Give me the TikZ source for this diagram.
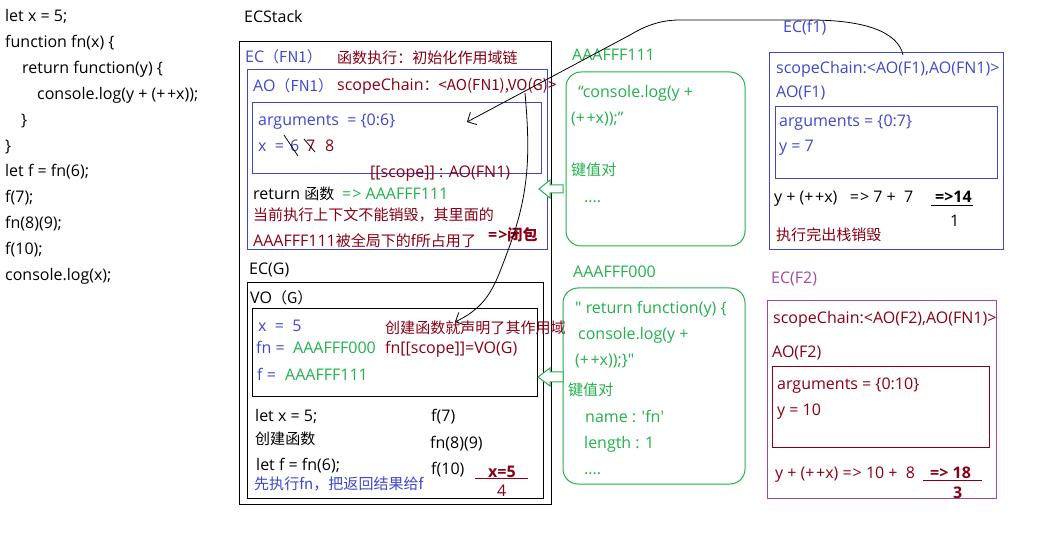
\documentclass[tikz,border=0pt]{standalone}
\usepackage{fontspec}
\setmainfont{Open Sans}
\newfontfamily\cjk[Scale=0.94]{Noto Sans CJK SC}
\usetikzlibrary{arrows.meta}
\definecolor{pblue}{HTML}{3F48CC}
\definecolor{pred}{HTML}{880015}
\definecolor{pgreen}{HTML}{22B14C}
\definecolor{ppurple}{HTML}{A349A4}
\newcommand{\pp}{+\kern1.5pt+}
\begin{document}
\begin{tikzpicture}[x=1pt,y=-1pt,
  t/.style={anchor=west,inner sep=0pt,text height=12pt,text depth=0pt,font=\fontsize{16}{19}\selectfont},
  tb/.style={t,font=\fontsize{16}{19}\selectfont\bfseries},
  frame/.style={line width=1pt},
  gbox/.style={pgreen,line width=1pt,rounded corners=15pt},
  harrow/.style={pgreen,line width=1pt,fill=white},
  hand/.style={black,line width=0.8pt},
  handtip/.style={-{Straight Barb[length=7pt,width=14pt,line width=0.8pt]}}
]
\useasboundingbox (0,0) rectangle (1039,534);
\fill[white] (0,0) rectangle (1039,534);

% ---- left code ----
\node[t] (c1) at (5,16) {let x = 5;};
\node[t] (c2) at (5,42) {function fn(x) \{};
\node[t] (c3) at (22,68) {return function(y) \{};
\node[t] (c4) at (37,94) {console.log(y + (\pp x));};
\node[t] (c5) at (21,120) {\}};
\node[t] (c6) at (5,146) {\}};
\node[t] (c7) at (5,171) {let f = fn(6);};
\node[t] (c8) at (5,197) {f(7);};
\node[t] (c9) at (5,223) {fn(8)(9);};
\node[t] (c10) at (5,249) {f(10);};
\node[t] (c11) at (5,275) {console.log(x);};

% ---- ECStack ----
\node[t] (ecs) at (244,17) {ECStack};
\draw[frame,black] (239,42) rectangle (551,504);

% EC(FN1)
\node[t,pblue] (ecfn1) at (245,57) {EC\cjk{（}FN1\cjk{）}};
\node[t,pred] (fnexec) at (337,58) {\cjk{函数执行：初始化作用域链}};
\draw[frame,pblue] (247,70) rectangle (547,250);
\node[t,pblue] (aofn1) at (253,86) {AO\cjk{（}FN1\cjk{）}};
\node[t,pred] (scfn1) at (337,85) {scopeChain\cjk{：}<AO(FN1),VO(G)>};
\draw[frame,pblue] (252,103) rectangle (541,174);
\node[t,pblue] (argfn1) at (258,120) {arguments \ = \{0:6\}};
\node[t,pblue] (xeq) at (258,146) {x \ =};
\node[t,pblue] (x6) at (290,146) {6};
\node[t,pred] (x7) at (306,146) {7};
\node[t,pred] (x8) at (325,146) {8};
\draw[black,line width=0.8pt] (284,135) -- (298,156);
\draw[black,line width=0.8pt] (304,139) -- (315,152);
\node[t,pred] (scope1) at (370,172) {[[scope]] : AO(FN1)};
\node[t] (retfn) at (253,194) {return \cjk{函数}};
\node[t,pgreen] (retval) at (342,194) {=\kern1pt> AAAFFF111};
\node[t,pred] (note1) at (253,215) {\cjk{当前执行上下文不能销毁，其里面的}};
\node[t,pred] (note2) at (253,241) {AAAFFF111\cjk{被全局下的}f\cjk{所占用了}};
\node[tb,pred] (closure) at (488,235) {=\kern1pt>\cjk{\bfseries 闭包}};

% EC(G)
\node[t] (ecg) at (249,269) {EC(G)};
\draw[frame,black] (247,283) rectangle (543,498);
\node[t] (vog) at (250,298) {VO\cjk{（}G\cjk{）}};
\draw[frame,black] (252,309) rectangle (537,397);
\node[t,pblue] (gx) at (258,326) {x \ = \ 5};
\node[t,pblue] (gfn) at (256,348) {fn =};
\node[t,pgreen] (gfnv) at (293,348) {AAAFFF000};
\node[t,pblue] (gf) at (257,375) {f =};
\node[t,pgreen] (gfv) at (285,375) {AAAFFF111};
\node[t,pred] (gnote) at (385,328) {\cjk{创建函数就声明了其作用域}};
\node[t,pred] (gscope) at (385,348) {fn[[scope]]=VO(G)};
\node[t] (s1) at (255,415) {let x = 5;};
\node[t] (s2) at (255,438) {\cjk{创建函数}};
\node[t] (s3) at (256,465) {let f = fn(6);};
\node[t,pblue] (s4) at (254,483) {\cjk{先执行}fn\cjk{，把返回结果给}f};
\node[t] (r1) at (431,416) {f(7)};
\node[t] (r2) at (430,443) {fn(8)(9)};
\node[t] (r3) at (431,468) {f(10)};
\node[tb,pred] (xres) at (488,471) {x=5};
\draw[pred,line width=1pt] (475,478) -- (528,478);
\node[t,pred] (x4) at (497,490) {4};

% ---- heap objects ----
\node[t,pgreen] (h111) at (572,55) {AAAFFF111};
\draw[gbox] (566,72) rectangle (745,246);
\node[t,pgreen] (h111a) at (578,92) {“console.log(y +};
\node[t,pgreen] (h111b) at (571,118) {(\pp x));”};
\node[t,pgreen] (h111c) at (571,170) {\cjk{键值对}};
\node[t,pgreen] (h111d) at (584,197) {....};

\node[t,pgreen] (h000) at (573,272) {AAAFFF000};
\draw[gbox] (563,288) rectangle (745,484);
\node[t,pgreen] (h000a) at (575,308) {\textquotedbl\ return function(y) \{};
\node[t,pgreen] (h000b) at (578,334) {console.log(y +};
\node[t,pgreen] (h000c) at (575,360) {(\pp x));\}\textquotedbl};
\node[t,pgreen] (h000d) at (568,390) {\cjk{键值对}};
\node[t,pgreen] (h000e) at (585,417) {name : \textquotesingle fn\textquotesingle};
\node[t,pgreen] (h000f) at (584,443) {length : 1};
\node[t,pgreen] (h000g) at (584,469) {....};

\draw[harrow] (539,189) -- (550,180) -- (550,185) -- (563,185) -- (563,193) -- (550,193) -- (550,198) -- cycle;
\draw[harrow] (538,377) -- (550,368) -- (550,372) -- (563,372) -- (563,382) -- (550,382) -- (550,386) -- cycle;

% ---- EC(f1) ----
\node[t,pblue] (ecf1) at (783,27) {EC(f1)};
\draw[frame,pblue] (769,53) rectangle (1003,250);
\node[t,pblue] (scf1) at (776,68) {scopeChain:<AO(F1),AO(FN1)>};
\node[t,pblue] (aof1) at (776,92) {AO(F1)};
\draw[frame,pblue] (775,107) rectangle (997,179);
\node[t,pblue] (argf1) at (779,121) {arguments = \{0:7\}};
\node[t,pblue] (yf1) at (779,146) {y = 7};
\node[t] (calc1) at (774,197) {y + (\pp x) \ \ =\kern1pt> 7 + \ 7};
\node[tb] (res1) at (935,197) {=>14};
\draw[black,line width=1pt] (931,206) -- (973,206);
\node[t] (one) at (950,221) {1};
\node[t,pred] (pop) at (776,235) {\cjk{执行完出栈销毁}};

% ---- EC(F2) ----
\node[t,ppurple] (ecf2) at (771,278) {EC(F2)};
\draw[frame,ppurple] (767,301) rectangle (996,498);
\node[t,pred] (scf2) at (773,318) {scopeChain:<AO(F2),AO(FN1)>};
\node[t,pred] (aof2) at (772,352) {AO(F2)};
\draw[frame,pred] (772,367) rectangle (989,447);
\node[t,pred] (argf2) at (777,384) {arguments = \{0:10\}};
\node[t,pred] (yf2) at (777,410) {y = 10};
\node[t,pred] (calc2) at (775,472) {y + (\pp x) =\kern1pt> 10 + \ 8};
\node[tb,pred] (res2) at (930,472) {=> 18};
\draw[pred,line width=1pt] (923,480) -- (982,480);
\node[tb,pred] (three) at (953,492) {3};

% ---- hand-drawn connectors ----
\coordinate (f1top) at (903,55);
\coordinate (argtip) at (467,122);
\draw[hand,handtip] (f1top) .. controls (898,32) and (865,20) .. (810,20)
  -- (680,20) .. controls (660,20) and (645,26) .. (630,35) -- (argtip);
\coordinate (vogstart) at (525,93);
\coordinate (vogtip) at (455,322);
\draw[hand,handtip] (vogstart) .. controls (530,150) and (530,190) .. (510,245)
  .. controls (495,285) and (490,305) .. (vogtip);
\end{tikzpicture}
\end{document}
